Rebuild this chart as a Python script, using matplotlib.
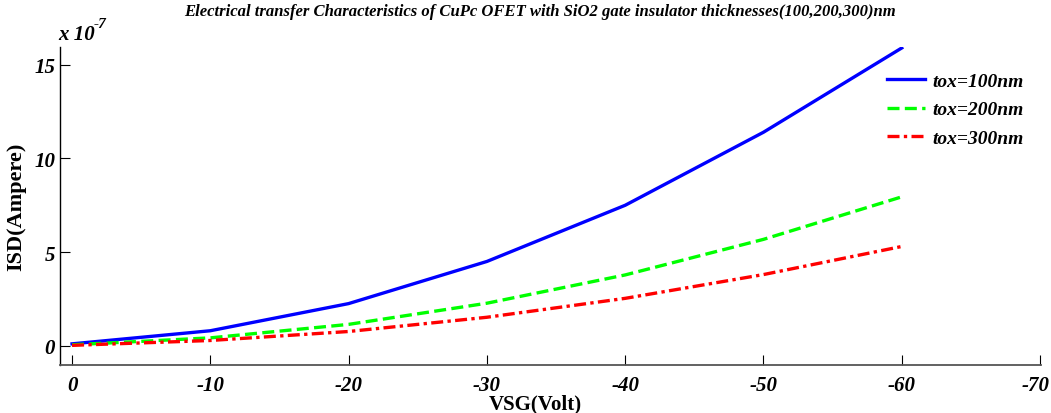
import matplotlib
matplotlib.use('Agg')
import matplotlib.pyplot as plt
from matplotlib.transforms import ScaledTranslation

vsg = [0, -10, -20, -30, -40, -50, -60]
isd_100 = [0.10, 0.80, 2.25, 4.50, 7.50, 11.40, 15.90]
isd_200 = [0.05, 0.42, 1.14, 2.27, 3.78, 5.68, 7.95]
isd_300 = [0.02, 0.28, 0.76, 1.52, 2.53, 3.80, 5.30]
labels = ['tox=100nm', 'tox=200nm', 'tox=300nm']

plt.rcParams['font.family'] = ['Liberation Serif', 'DejaVu Serif']

fig = plt.figure(figsize=(10.51, 4.14), dpi=100)
ax = fig.add_axes([0.0571, 0.1159, 0.9334, 0.7681])

l1, = ax.plot(vsg, isd_100, color='#0000ff', lw=2.4, ls='-')
l2, = ax.plot(vsg, isd_200, color='#00ff00', lw=2.4, ls=(0, (3.6, 1.6)))
l3, = ax.plot(vsg, isd_300, color='#ff0000', lw=2.4, ls=(0, (3.6, 1.3, 1, 1.3)))

ax.set_xlim(0.87, -70.07)
ax.set_ylim(-1.03, 15.95)
ax.set_xticks([0, -10, -20, -30, -40, -50, -60, -70])
ax.set_yticks([0, 5, 10, 15])
ax.set_xticklabels(['0', '-10', '-20', '-30', '-40', '-50', '-60', '-70'])

for s in ['top', 'right']:
    ax.spines[s].set_visible(False)
ax.spines['left'].set_linewidth(1.0)
ax.spines['bottom'].set_linewidth(1.3)
ax.spines['bottom'].set_color('#555555')

ax.tick_params(axis='both', direction='in', length=7, width=0.8,
               labelsize=15)
ax.tick_params(axis='x', pad=7)
for t in ax.get_xticklabels() + ax.get_yticklabels():
    t.set_fontweight('bold')
    t.set_fontstyle('italic')
# last label sits right at the edge, nudge it left a little
last = ax.get_xticklabels()[-1]
last.set_transform(last.get_transform() + ScaledTranslation(-3 / 72, 0, fig.dpi_scale_trans))

ax.set_ylabel('ISD(Ampere)', fontsize=16, fontweight='bold', labelpad=6)
fig.text(0.509, 0.022, 'VSG(Volt)', ha='center', va='center', fontsize=15,
         fontweight='bold')

fig.text(0.514, 0.97, 'Electrical transfer Characteristics of CuPc OFET with SiO2 gate insulator thicknesses(100,200,300)nm',
         ha='center', va='center', fontsize=12, fontweight='bold', fontstyle='italic')

fig.text(0.055, 0.915, 'x 10', ha='left', va='center', fontsize=15,
         fontweight='bold', fontstyle='italic')
fig.text(0.0895, 0.942, '-7', ha='left', va='center', fontsize=11,
         fontweight='bold', fontstyle='italic')

leg = ax.legend([l1, l2, l3], labels, loc='upper right', frameon=False,
                bbox_to_anchor=(1.0, 0.975), handlelength=2.0, handletextpad=0.35,
                labelspacing=0.55, prop={'size': 14, 'weight': 'bold', 'style': 'italic'})

fig.savefig('out.png', dpi=100)
